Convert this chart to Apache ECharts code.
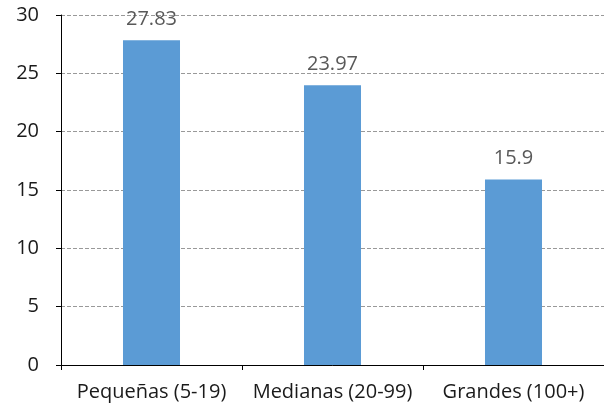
<!DOCTYPE html>
<html>
<head>
<meta charset="utf-8">
<script src="https://cdn.jsdelivr.net/npm/echarts@6/dist/echarts.min.js"></script>
<style>
  html, body { margin: 0; padding: 0; background: #fff; }
  #chart { width: 604px; height: 404px; }
</style>
</head>
<body>
<div id="chart"></div>
<script>
// categorías por tamaño de empresa
const categories = ["Pequeñas (5-19)", "Medianas (20-99)", "Grandes (100+)"];
const values = [27.83, 23.97, 15.9];

const chart = echarts.init(document.getElementById("chart"));

const option = {
  animation: false,
  textStyle: { fontFamily: "Open Sans" },
  grid: { left: 61, right: 0, top: 15, bottom: 39 },
  xAxis: {
    type: "category",
    data: categories,
    axisLine: { lineStyle: { color: "#000", width: 1 } },
    axisTick: { show: true, length: 5, lineStyle: { color: "#000" } },
    axisLabel: { color: "#1a1a1a", fontSize: 20, margin: 17, interval: 0 },
    splitLine: { show: false }
  },
  yAxis: {
    type: "value",
    min: 0,
    max: 30,
    interval: 5,
    axisLine: { show: true, lineStyle: { color: "#000", width: 1 } },
    axisTick: { show: true, length: 5, lineStyle: { color: "#000" } },
    axisLabel: { color: "#1a1a1a", fontSize: 20, margin: 22 },
    splitLine: { show: true, lineStyle: { type: "dashed", color: "#999" } }
  },
  series: [
    {
      type: "bar",
      data: values,
      barWidth: "31.5%",
      itemStyle: { color: "#5b9bd5" },
      label: {
        show: true,
        position: "top",
        distance: 11,
        color: "#595959",
        fontSize: 20
      }
    }
  ]
};

chart.setOption(option);
</script>
</body>
</html>
